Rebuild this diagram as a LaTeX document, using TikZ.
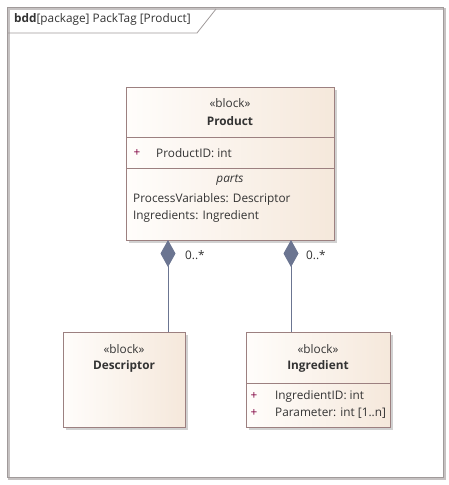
\documentclass[tikz,border=0pt]{standalone}
\usepackage{fontspec}
\setmainfont{Open Sans}
\usetikzlibrary{arrows.meta,shadows}

\definecolor{blockline}{HTML}{9C8080}
\definecolor{blockleft}{HTML}{FFFDFB}
\definecolor{blockright}{HTML}{F5E8DB}
\definecolor{conn}{HTML}{6B7591}
\definecolor{txt}{HTML}{333333}
\definecolor{plus}{HTML}{800040}
\definecolor{framecol}{HTML}{A09A9A}

\tikzset{
	block/.style={draw=blockline, line width=0.9pt, left color=blockleft, right color=blockright,
		drop shadow={shadow xshift=3pt, shadow yshift=-3pt, fill=black!18, opacity=1},
		inner sep=0pt, anchor=north west},
	sep/.style={draw=blockline, line width=0.8pt},
	txt/.style={text=txt, inner sep=0pt, font=\fontsize{11.8}{14}\selectfont},
	comp/.style={draw=conn, line width=1pt, {Diamond[length=27pt,width=15pt,fill=conn]}-},
	mult/.style={txt, anchor=west},
}

\begin{document}
\begin{tikzpicture}[x=1pt,y=-1pt]
	\useasboundingbox (0,0) rectangle (449,485);

	% frame
	\draw[framecol!60, line width=2pt] (8.5,8.5) rectangle (444.5,478.5);
	\draw[framecol, line width=1pt] (7,7) rectangle (443,477);
	\draw[framecol, line width=0.8pt] (7,33) -- (197,33) -- (216,9);
	\node[txt, anchor=west] (title) at (14,19) {\textbf{bdd}[package] PackTag [Product]};

	% Product
	\node[block, minimum width=208pt, minimum height=153pt] (product) at (126,87) {};
	\draw[sep] (126,137) -- (334,137);
	\draw[sep] (126,168) -- (334,168);
	\node[txt] (productst) at (230,103) {«block»};
	\node[txt] (productnm) at (230,121) {\textbf{Product}};
	\node[txt, text=plus] (productpl) at (137,153) {+};
	\node[txt, anchor=west] (productid) at (156,153) {ProductID: int};
	\node[txt] (productparts) at (230,180) {\textit{parts}};
	\node[txt, anchor=west] (productpv) at (133,199) {ProcessVariables: Descriptor};
	\node[txt, anchor=west] (productig) at (133,216) {Ingredients: Ingredient};

	% Descriptor
	\node[block, minimum width=122pt, minimum height=95pt] (descriptor) at (63,332) {};
	\node[txt] (descriptorst) at (124,349) {«block»};
	\node[txt] (descriptornm) at (124,366) {\textbf{Descriptor}};

	% Ingredient
	\node[block, minimum width=144pt, minimum height=95pt] (ingredient) at (246,332) {};
	\draw[sep] (246,383) -- (390,383);
	\node[txt] (ingredientst) at (318,349) {«block»};
	\node[txt] (ingredientnm) at (318,366) {\textbf{Ingredient}};
	\node[txt, text=plus] (ingredientpl1) at (254,396) {+};
	\node[txt, anchor=west] (ingredientid) at (275,396) {IngredientID: int};
	\node[txt, text=plus] (ingredientpl2) at (254,413) {+};
	\node[txt, anchor=west] (ingredientpar) at (275,413) {Parameter: int [1..n]};

	% compositions
	\coordinate (pd) at (168,240);
	\coordinate (pi) at (291,240);
	\draw[comp] (pd) -- (pd |- descriptor.north);
	\draw[comp] (pi) -- (pi |- ingredient.north);
	\node[mult] (multd) at (185,255) {0..*};
	\node[mult] (multi) at (306,255) {0..*};
\end{tikzpicture}
\end{document}
